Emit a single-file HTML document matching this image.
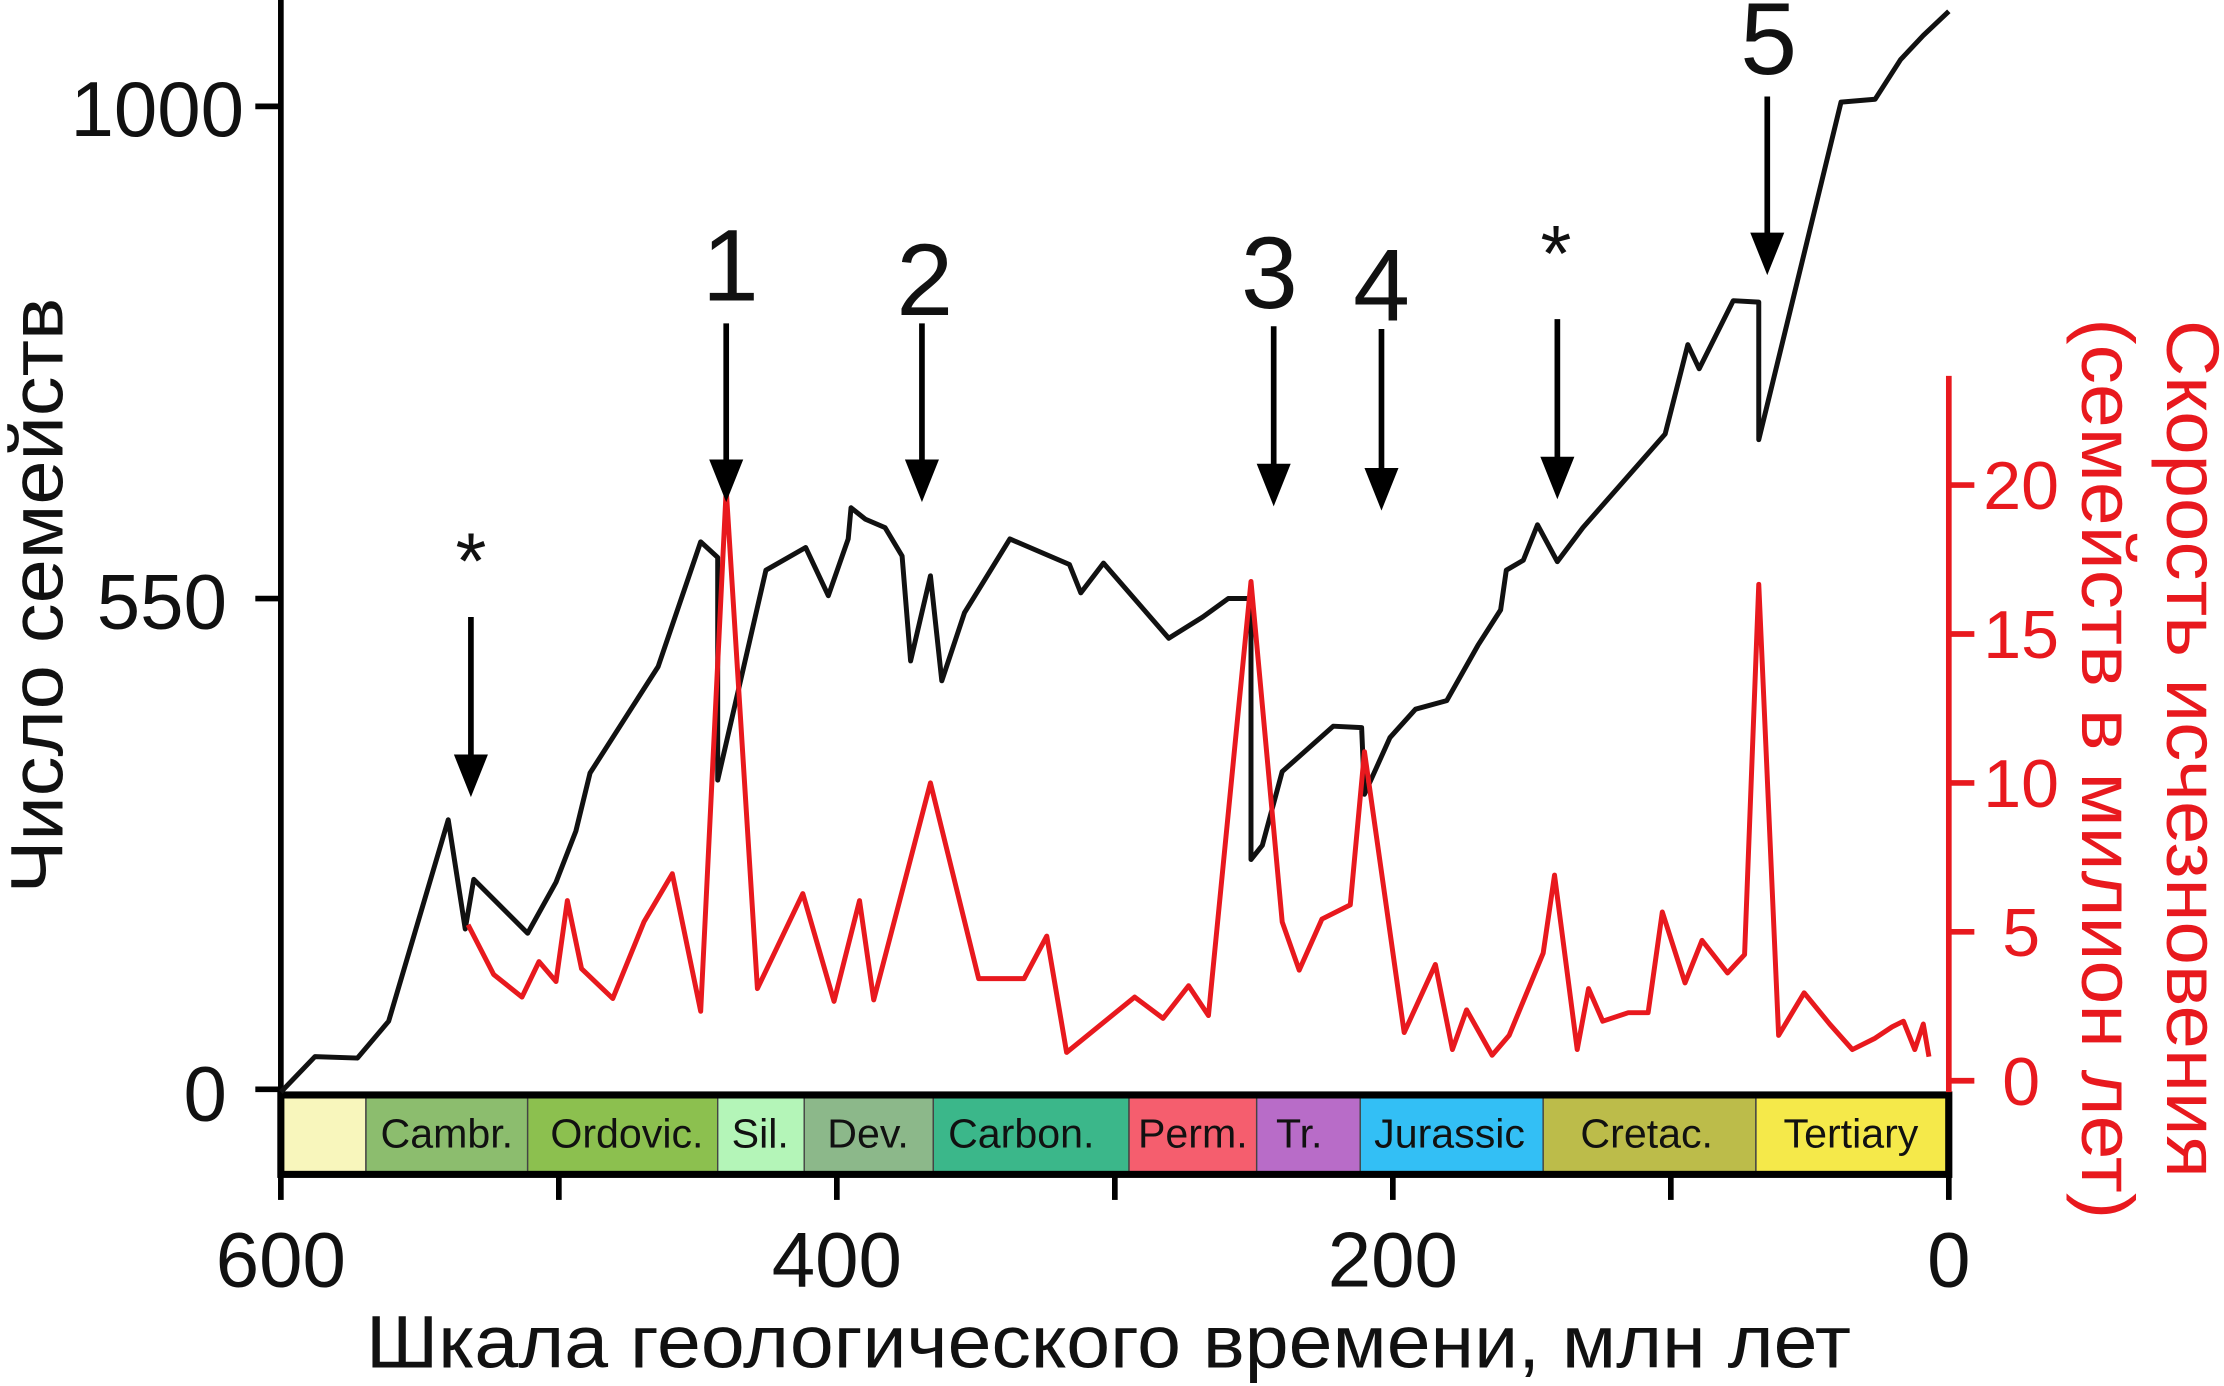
<!DOCTYPE html>
<html><head><meta charset="utf-8"><style>html,body{margin:0;padding:0;background:#fff}svg{display:block}</style></head>
<body>
<svg width="2224" height="1386" viewBox="0 0 1568 977.2" xmlns="http://www.w3.org/2000/svg" font-family="Liberation Sans, DejaVu Sans, sans-serif">
<rect width="1568" height="977.2" fill="#fff"/>
<g stroke="#444" stroke-width="1">
<rect x="198" y="772" width="60" height="56" fill="#f8f6bc"/>
<rect x="258" y="772" width="114" height="56" fill="#8cbd6e"/>
<rect x="372" y="772" width="134" height="56" fill="#8cc04f"/>
<rect x="506" y="772" width="61" height="56" fill="#b4f5b8"/>
<rect x="567" y="772" width="91" height="56" fill="#8cb88a"/>
<rect x="658" y="772" width="138" height="56" fill="#3bb78a"/>
<rect x="796" y="772" width="90" height="56" fill="#f55e6e"/>
<rect x="886" y="772" width="73" height="56" fill="#b86cc8"/>
<rect x="959" y="772" width="129" height="56" fill="#33bff5"/>
<rect x="1088" y="772" width="150" height="56" fill="#bcbc4a"/>
<rect x="1238" y="772" width="134" height="56" fill="#f5e94a"/>
</g>
<rect x="198" y="772" width="1176" height="56" fill="none" stroke="#000" stroke-width="5"/>
<g font-size="29" fill="#111" text-anchor="middle">
<text x="315" y="809">Cambr.</text><text x="442" y="809">Ordovic.</text><text x="536" y="809">Sil.</text>
<text x="612" y="809">Dev.</text><text x="720" y="809">Carbon.</text><text x="841" y="809">Perm.</text>
<text x="916" y="809">Tr.</text><text x="1022" y="809">Jurassic</text><text x="1161" y="809">Cretac.</text>
<text x="1305" y="809">Tertiary</text>
</g>
<g stroke="#000" stroke-width="4" fill="none">
<line x1="198" y1="0" x2="198" y2="772"/>
<line x1="180" y1="75" x2="198" y2="75"/><line x1="180" y1="422" x2="198" y2="422"/><line x1="180" y1="768" x2="198" y2="768"/>
<line x1="198" y1="828" x2="198" y2="846"/><line x1="394" y1="828" x2="394" y2="846"/><line x1="590" y1="828" x2="590" y2="846"/>
<line x1="786" y1="828" x2="786" y2="846"/><line x1="982" y1="828" x2="982" y2="846"/><line x1="1178" y1="828" x2="1178" y2="846"/><line x1="1374" y1="828" x2="1374" y2="846"/>
</g>
<g font-size="55" fill="#111">
<text x="172" y="96" text-anchor="end">1000</text>
<text x="160" y="443" text-anchor="end">550</text>
<text x="160" y="790" text-anchor="end">0</text>
<g text-anchor="middle"><text x="198" y="907">600</text><text x="590" y="907">400</text><text x="982" y="907">200</text><text x="1374" y="907">0</text></g>
<text x="258" y="964" textLength="1047" lengthAdjust="spacingAndGlyphs" font-size="52">Шкала геологического времени, млн лет</text>
<text transform="translate(44,420) rotate(-90)" text-anchor="middle" font-size="52" textLength="420" lengthAdjust="spacingAndGlyphs">Число семейств</text>
</g>
<g stroke="#e8191e" stroke-width="4">
<line x1="1374" y1="265" x2="1374" y2="770"/>
<line x1="1374" y1="342" x2="1392" y2="342"/><line x1="1374" y1="447" x2="1392" y2="447"/><line x1="1374" y1="552" x2="1392" y2="552"/><line x1="1374" y1="657" x2="1392" y2="657"/><line x1="1374" y1="762" x2="1392" y2="762"/>
</g>
<g font-size="48" fill="#e8191e" text-anchor="middle">
<text x="1425" y="359">20</text><text x="1425" y="464">15</text><text x="1425" y="569">10</text><text x="1425" y="674">5</text><text x="1425" y="779">0</text>
<text transform="translate(1528,528) rotate(90)" font-size="52" textLength="605" lengthAdjust="spacingAndGlyphs">Скорость исчезновения</text>
<text transform="translate(1468,542) rotate(90)" font-size="52" textLength="635" lengthAdjust="spacingAndGlyphs">(семейств в милион лет)</text>
</g>
<polyline fill="none" stroke="#111" stroke-width="3.5" stroke-linejoin="round" points="198,770 222,745 252,746 274,720 316,578 328,655 334,620 372,658 392,622 406,586 416,545 464,470 494,382 506,393 506,550 540,402 568,386 584,420 598,380 600,358 610,366 624,372 636,392 642,466 656,406 664,480 680,432 712,380 754,398 762,418 778,397 824,450 848,435 866,422 882,422 882,606 890,596 904,544 940,512 960,513 962,560 980,520 998,500 1020,494 1042,455 1058,430 1062,402 1074,395 1084,370 1098,396 1116,372 1174,306 1190,243 1198,260 1222,212 1240,213 1240,310 1298,72 1322,70 1340,42 1356,25 1374,8"/>
<polyline fill="none" stroke="#e8191e" stroke-width="3.5" stroke-linejoin="round" points="330,652 348,687 368,703 380,678 392,692 400,635 410,683 432,704 454,650 474,616 494,713 512,345 534,697 566,630 588,706 606,635 616,705 656,552 690,690 722,690 738,660 752,742 800,703 820,718 838,695 852,716 882,410 904,650 916,684 932,648 952,638 962,530 990,728 1012,680 1024,740 1034,712 1052,744 1064,730 1088,672 1096,617 1112,740 1120,697 1130,720 1148,714 1162,714 1172,643 1188,693 1200,663 1218,686 1230,673 1240,412 1254,730 1272,700 1290,722 1306,740 1322,732 1334,724 1342,720 1350,740 1356,722 1360,745"/>
<g stroke="#000" stroke-width="4">
<line x1="332" y1="435" x2="332" y2="540"/><line x1="512" y1="228" x2="512" y2="332"/><line x1="650" y1="228" x2="650" y2="332"/>
<line x1="898" y1="230" x2="898" y2="335"/><line x1="974" y1="232" x2="974" y2="338"/><line x1="1098" y1="225" x2="1098" y2="330"/><line x1="1246" y1="68" x2="1246" y2="172"/>
</g>
<g fill="#000">
<polygon points="320,532 344,532 332,562"/><polygon points="500,324 524,324 512,354"/><polygon points="638,324 662,324 650,354"/>
<polygon points="886,327 910,327 898,357"/><polygon points="962,330 986,330 974,360"/><polygon points="1086,322 1110,322 1098,352"/><polygon points="1234,164 1258,164 1246,194"/>
</g>
<g font-size="72" fill="#111" text-anchor="middle">
<text x="332" y="415" font-size="56">*</text><text x="515" y="212">1</text><text x="652" y="222">2</text>
<text x="895" y="217">3</text><text x="974" y="226">4</text><text x="1097" y="198" font-size="56">*</text><text x="1247" y="52">5</text>
</g>
</svg>
</body></html>
